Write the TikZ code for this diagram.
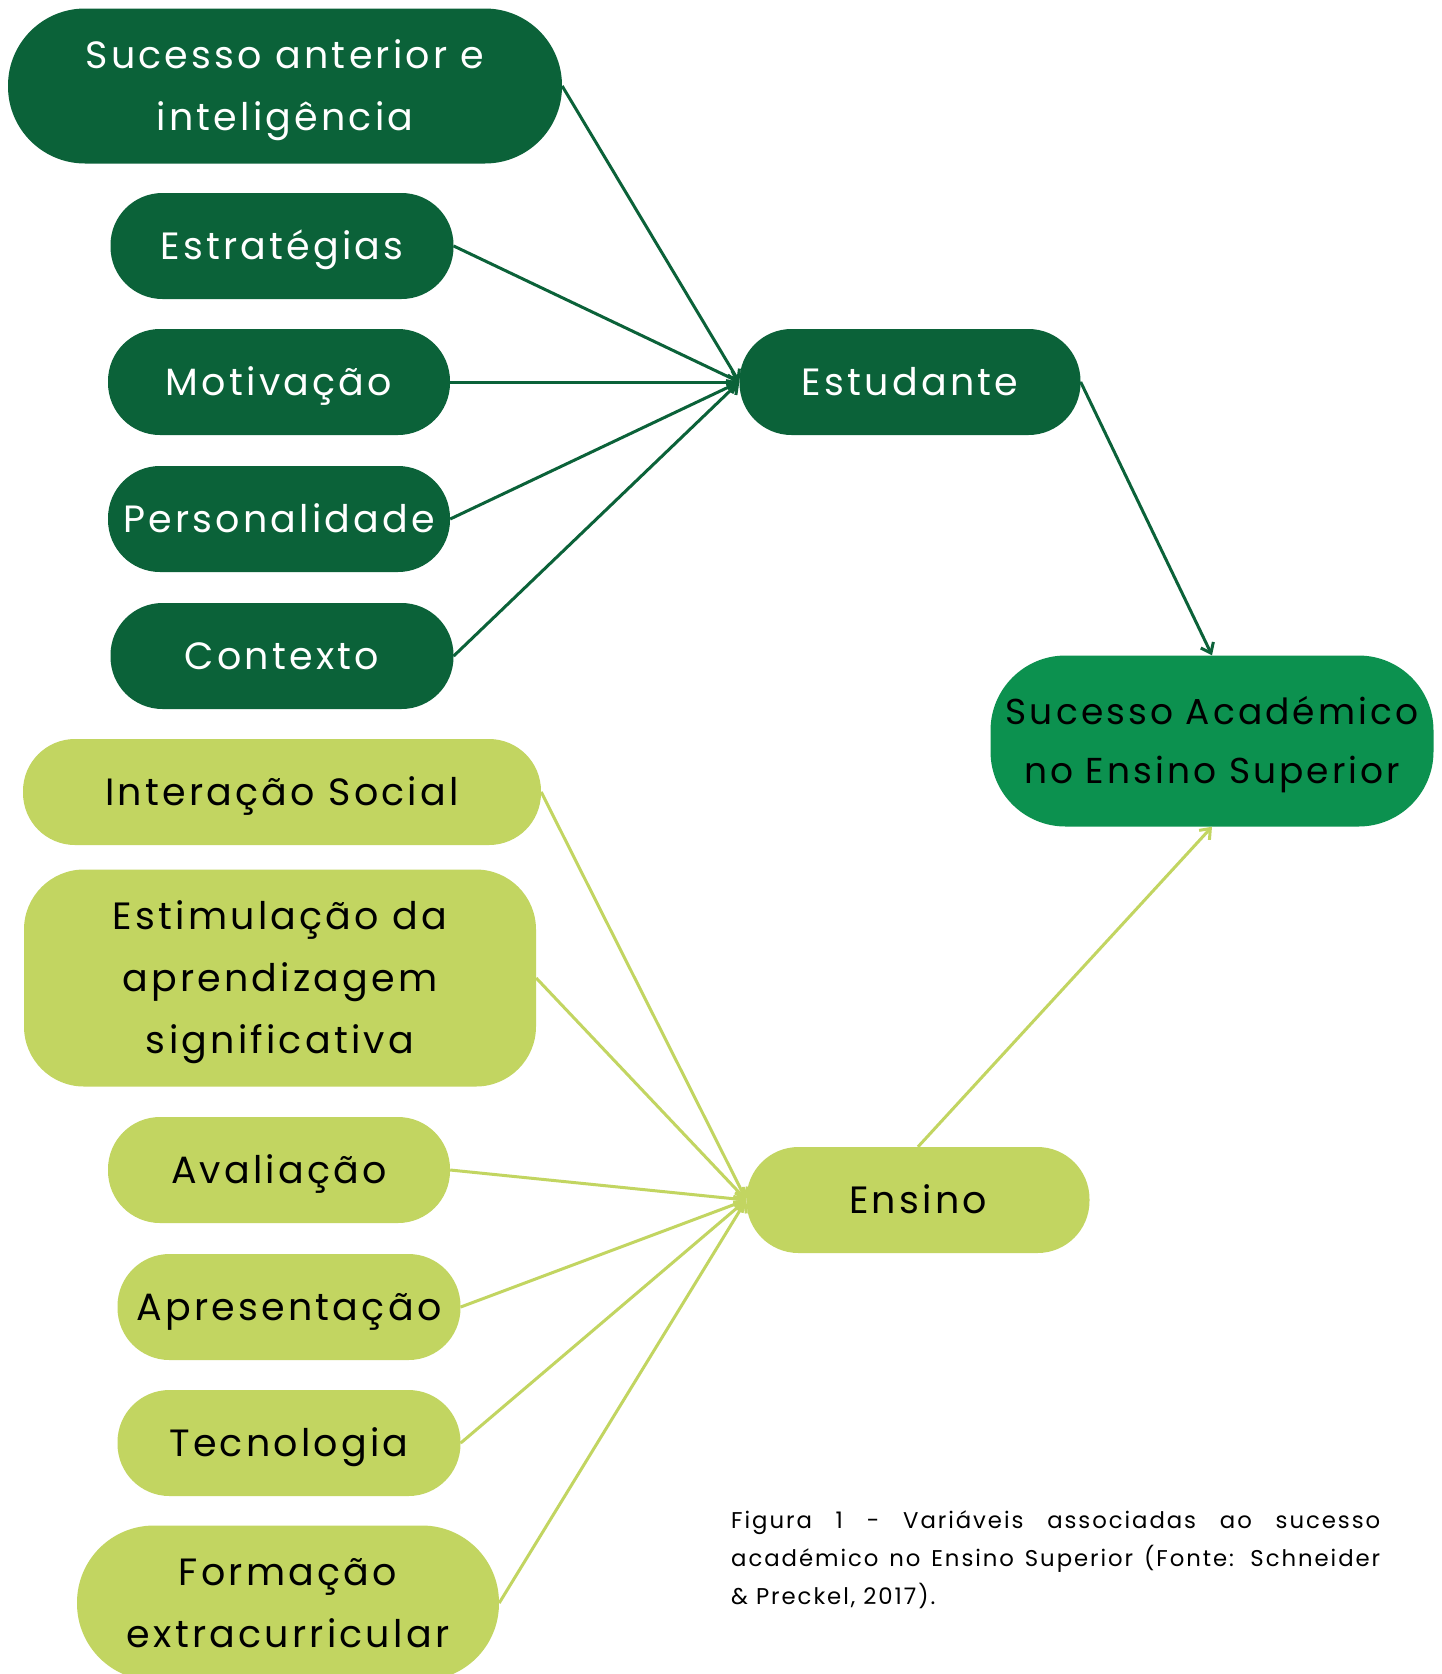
\documentclass[tikz,border=0pt]{standalone}
\usepackage{fontspec}
\setmainfont{Poppins}[LetterSpace=8.5]
\usetikzlibrary{arrows.meta}
\definecolor{dgreen}{RGB}{11,98,57}
\definecolor{mgreen}{RGB}{12,145,79}
\definecolor{lgreen}{RGB}{194,213,97}
\begin{document}
\begin{tikzpicture}[x=1pt,y=-1pt,
  box/.style={rectangle, inner sep=0pt, align=center, text depth=0pt, text height=27pt, font=\fontsize{38pt}{62pt}\selectfont},
  dbox/.style={box, fill=dgreen, text=white},
  lbox/.style={box, fill=lgreen, text=black},
  mbox/.style={box, fill=mgreen, text=black},
  pill/.style={minimum width=#1, minimum height=106pt, rounded corners=52pt},
  dline/.style={draw=dgreen, line width=3pt, -{Straight Barb[length=9pt,width=14pt]}},
  lline/.style={draw=lgreen, line width=3pt, -{Straight Barb[length=9pt,width=14pt]}}
]
\useasboundingbox (0,0) rectangle (1442,1674);
\fill[white] (0,0) rectangle (1442,1674);

% student-related nodes
\node[dbox, minimum width=554pt, minimum height=155pt, rounded corners=77pt, text height=89pt] (prev) at (285,86) {Sucesso anterior e\\inteligência};
\node[dbox, pill=343pt] (strat) at (282,246) {Estratégias};
\node[dbox, pill=342pt] (motiv) at (279,382) {Motivação};
\node[dbox, pill=342pt] (pers) at (279,519) {Personalidade};
\node[dbox, pill=343pt] (cont) at (282,656) {Contexto};
\node[dbox, pill=341pt] (est) at (910,382) {Estudante};

% outcome
\node[mbox, minimum width=443pt, minimum height=171pt, rounded corners=75pt, font=\fontsize{36pt}{59pt}\selectfont, text height=84.5pt] (succ) at (1212,741) {Sucesso Académico\\no Ensino Superior};

% teaching-related nodes
\node[lbox, pill=518pt] (inter) at (282,792) {Interação Social};
\node[lbox, minimum width=512pt, minimum height=217pt, rounded corners=60pt, text height=151pt] (estim) at (280,978) {Estimulação da\\aprendizagem\\significativa};
\node[lbox, pill=342pt] (aval) at (279,1170) {Avaliação};
\node[lbox, pill=343pt] (apres) at (289,1307) {Apresentação};
\node[lbox, pill=343pt] (tec) at (289,1443) {Tecnologia};
\node[lbox, minimum width=422pt, minimum height=155pt, rounded corners=77pt, text height=89pt] (form) at (288,1603) {Formação\\extracurricular};
\node[lbox, pill=343pt] (ens) at (918,1200) {Ensino};

% connectors
\foreach \n in {prev,strat,motiv,pers,cont} \draw[dline] (\n.east) -- (est.west);
\draw[dline] (est.east) -- (succ.north);
\foreach \n in {inter,estim,aval,apres,tec,form} \draw[lline] (\n.east) -- (ens.west);
\draw[lline] (ens.north) -- (succ.south);

% caption
\node[anchor=north west, inner sep=0pt, text width=649pt, align=justify, font=\fontsize{22.8pt}{38pt}\selectfont] (cap) at (731,1510)
  {Figura 1 - Variáveis associadas ao sucesso\linebreak académico no Ensino Superior (Fonte: Schneider\linebreak \& Preckel, 2017).};
\end{tikzpicture}
\end{document}
